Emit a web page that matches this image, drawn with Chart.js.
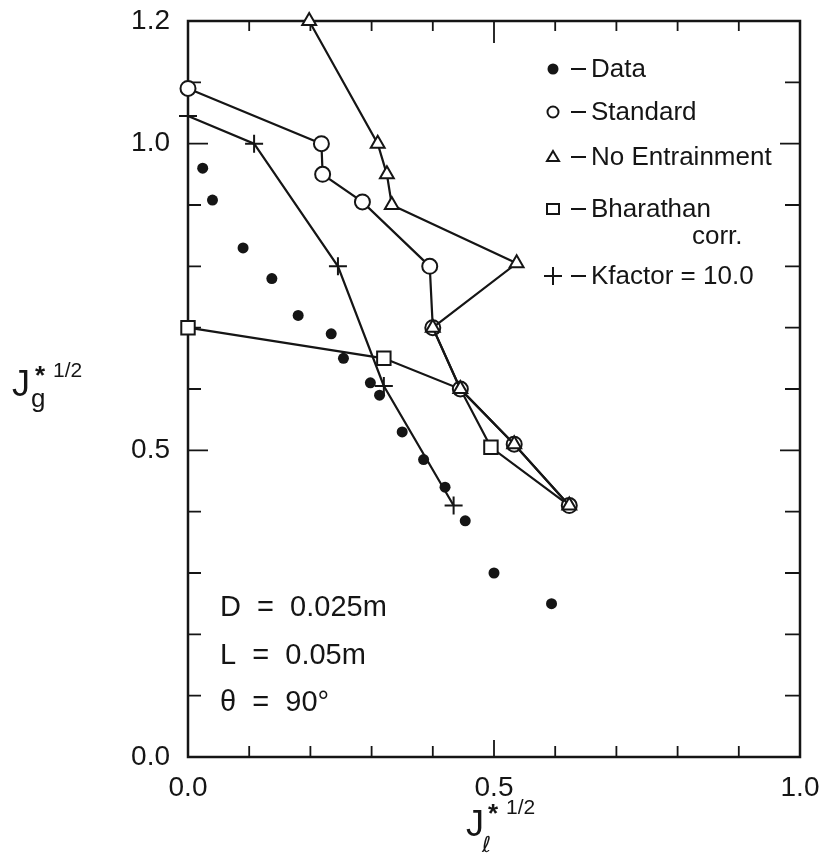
<!DOCTYPE html>
<html>
<head>
<meta charset="utf-8">
<script src="https://cdn.jsdelivr.net/npm/chart.js@4.4.1/dist/chart.umd.min.js"></script>
<style>
  html, body { margin: 0; padding: 0; background: #fff; }
  #wrap { width: 823px; height: 866px; }
</style>
</head>
<body>
<div id="wrap"><canvas id="chart" width="823" height="866"></canvas></div>
<script>
// tick labels
const xTickLabels = [0.0, 0.5, 1.0];
const yTickLabels = [0.0, 0.5, 1.0, 1.2];

// measured points
const dataX = [0.024, 0.04, 0.09, 0.137, 0.18, 0.234, 0.254, 0.298, 0.313, 0.35, 0.385, 0.42, 0.453, 0.50, 0.594];
const dataY = [0.96, 0.908, 0.83, 0.78, 0.72, 0.69, 0.65, 0.61, 0.59, 0.53, 0.485, 0.44, 0.385, 0.30, 0.25];

const standardX = [0.0, 0.218, 0.22, 0.285, 0.395, 0.40, 0.445, 0.533, 0.623];
const standardY = [1.09, 1.0, 0.95, 0.905, 0.80, 0.70, 0.60, 0.51, 0.41];

const noEntrainX = [0.198, 0.31, 0.325, 0.333, 0.537, 0.40, 0.445, 0.533, 0.623];
const noEntrainY = [1.2, 1.0, 0.95, 0.90, 0.805, 0.70, 0.60, 0.51, 0.41];

const bharathanX = [0.0, 0.32, 0.445, 0.495, 0.623];
const bharathanY = [0.70, 0.65, 0.60, 0.505, 0.41];

const kfactorX = [0.0, 0.108, 0.245, 0.32, 0.434];
const kfactorY = [1.045, 1.0, 0.80, 0.605, 0.41];

const FONT = '"Liberation Sans", Arial, sans-serif';
const INK = '#151515';

const pts = (xs, ys) => xs.map((x, i) => ({ x: x, y: ys[i] }));

// frame with inward ticks, titles, notes and the hand-made legend
const decorations = {
    id: 'decorations',
    beforeDatasetsDraw(chart) {
        const ctx = chart.ctx;
        const a = chart.chartArea;
        const xs = chart.scales.x;
        const ys = chart.scales.y;
        ctx.save();
        ctx.strokeStyle = INK;
        ctx.lineWidth = 2.5;
        ctx.strokeRect(a.left, a.top, a.right - a.left, a.bottom - a.top);

        ctx.lineWidth = 1.8;
        ctx.beginPath();
        for (let i = 1; i < 10; i++) {
            const v = i / 10;
            const px = xs.getPixelForValue(v);
            const major = i === 5;
            ctx.moveTo(px, a.bottom);
            ctx.lineTo(px, a.bottom - (major ? 17 : 11));
            ctx.moveTo(px, a.top);
            ctx.lineTo(px, a.top + (major ? 22 : 10));
        }
        for (let i = 1; i < 12; i++) {
            const v = i / 10;
            const py = ys.getPixelForValue(v);
            const major = i === 5 || i === 10;
            ctx.moveTo(a.left, py);
            ctx.lineTo(a.left + (major ? 20 : 13), py);
            ctx.moveTo(a.right, py);
            ctx.lineTo(a.right - (major ? 20 : 15), py);
        }
        ctx.stroke();
        ctx.restore();
    },
    afterDraw(chart) {
        const ctx = chart.ctx;
        ctx.save();
        ctx.fillStyle = INK;
        ctx.strokeStyle = INK;
        ctx.textBaseline = 'alphabetic';
        ctx.textAlign = 'left';

        // y axis title
        ctx.font = '36px ' + FONT;
        ctx.fillText('J', 12, 396);
        ctx.font = 'bold 26px ' + FONT;
        ctx.fillText('*', 35, 384);
        ctx.font = '21px ' + FONT;
        ctx.fillText('1/2', 53, 377);
        ctx.font = '26px ' + FONT;
        ctx.fillText('g', 31, 407);

        // x axis title
        ctx.font = '36px ' + FONT;
        ctx.fillText('J', 466, 836);
        ctx.font = 'bold 26px ' + FONT;
        ctx.fillText('*', 488, 822);
        ctx.font = '21px ' + FONT;
        ctx.fillText('1/2', 506, 814);
        ctx.font = 'italic 22px "DejaVu Sans", sans-serif';
        ctx.fillText('\u2113', 482, 852);

        // notes
        ctx.font = '29px ' + FONT;
        ctx.textBaseline = 'middle';
        ctx.fillText('D  =  0.025m', 220, 608);
        ctx.fillText('L  =  0.05m', 220, 656);
        ctx.fillText('\u03b8  =  90\u00b0', 220, 703);

        // legend
        const rows = [
            { mark: 'dot', text: 'Data', y: 69 },
            { mark: 'circle', text: 'Standard', y: 112 },
            { mark: 'tri', text: 'No Entrainment', y: 157 },
            { mark: 'square', text: 'Bharathan', y: 209 },
            { mark: 'plus', text: 'Kfactor = 10.0', y: 276 }
        ];
        const mx = 553;
        ctx.lineWidth = 2;
        rows.forEach(r => {
            ctx.beginPath();
            if (r.mark === 'dot') {
                ctx.arc(mx, r.y, 5.5, 0, Math.PI * 2);
                ctx.fill();
            } else if (r.mark === 'circle') {
                ctx.arc(mx, r.y, 5.5, 0, Math.PI * 2);
                ctx.stroke();
            } else if (r.mark === 'tri') {
                ctx.moveTo(mx, r.y - 6);
                ctx.lineTo(mx + 6, r.y + 4);
                ctx.lineTo(mx - 6, r.y + 4);
                ctx.closePath();
                ctx.stroke();
            } else if (r.mark === 'square') {
                ctx.rect(mx - 6, r.y - 5, 12, 10);
                ctx.stroke();
            } else {
                ctx.moveTo(mx - 9, r.y);
                ctx.lineTo(mx + 9, r.y);
                ctx.moveTo(mx, r.y - 9);
                ctx.lineTo(mx, r.y + 9);
                ctx.stroke();
            }
            ctx.beginPath();
            ctx.moveTo(571, r.y);
            ctx.lineTo(586, r.y);
            ctx.stroke();
            ctx.font = '26px ' + FONT;
            ctx.fillText(r.text, 591, r.y + 1);
        });
        ctx.fillText('corr.', 692, 237);
        ctx.restore();
    }
};

const openMarker = {
    backgroundColor: '#fff',
    borderColor: INK,
    borderWidth: 2.2,
    pointBorderWidth: 2,
    showLine: true,
    tension: 0,
    clip: false
};

new Chart(document.getElementById('chart'), {
    type: 'scatter',
    data: {
        datasets: [
            {
                label: 'Data',
                data: pts(dataX, dataY),
                pointStyle: 'circle',
                pointRadius: 5.5,
                backgroundColor: INK,
                borderColor: INK,
                borderWidth: 0,
                showLine: false,
                clip: false,
                order: 0
            },
            Object.assign({
                label: 'No Entrainment',
                data: pts(noEntrainX, noEntrainY),
                pointStyle: 'triangle',
                pointRadius: 8,
                order: 1
            }, openMarker),
            Object.assign({
                label: 'Standard',
                data: pts(standardX, standardY),
                pointStyle: 'circle',
                pointRadius: 7.5,
                order: 2
            }, openMarker),
            Object.assign({
                label: 'Bharathan corr.',
                data: pts(bharathanX, bharathanY),
                pointStyle: 'rect',
                pointRadius: [9.5, 9.5, 0, 9.5, 0],
                order: 3
            }, openMarker),
            Object.assign({
                label: 'Kfactor = 10.0',
                data: pts(kfactorX, kfactorY),
                pointStyle: 'cross',
                pointRadius: 9,
                order: 4
            }, openMarker)
        ]
    },
    options: {
        responsive: false,
        animation: false,
        devicePixelRatio: 1,
        layout: { padding: { top: 21, right: 23, left: 0, bottom: 0 } },
        plugins: {
            legend: { display: false },
            tooltip: { enabled: false }
        },
        scales: {
            x: {
                type: 'linear',
                min: 0,
                max: 1,
                afterBuildTicks: s => { s.ticks = xTickLabels.map(v => ({ value: v })); },
                afterFit: s => { s.height = 109; s.paddingLeft = 0; s.paddingRight = 0; },
                grid: { display: false, drawTicks: false },
                border: { display: false },
                ticks: {
                    autoSkip: false,
                    maxRotation: 0,
                    padding: 14,
                    color: INK,
                    font: { family: FONT, size: 28 },
                    callback: v => Number(v).toFixed(1)
                }
            },
            y: {
                type: 'linear',
                min: 0,
                max: 1.2,
                afterBuildTicks: s => { s.ticks = yTickLabels.map(v => ({ value: v })); },
                afterFit: s => { s.width = 188; s.paddingTop = 0; s.paddingBottom = 0; },
                grid: { display: false, drawTicks: false },
                border: { display: false },
                ticks: {
                    autoSkip: false,
                    padding: 18,
                    color: INK,
                    font: { family: FONT, size: 28 },
                    callback: v => Number(v).toFixed(1)
                }
            }
        }
    },
    plugins: [decorations]
});
</script>
</body>
</html>
